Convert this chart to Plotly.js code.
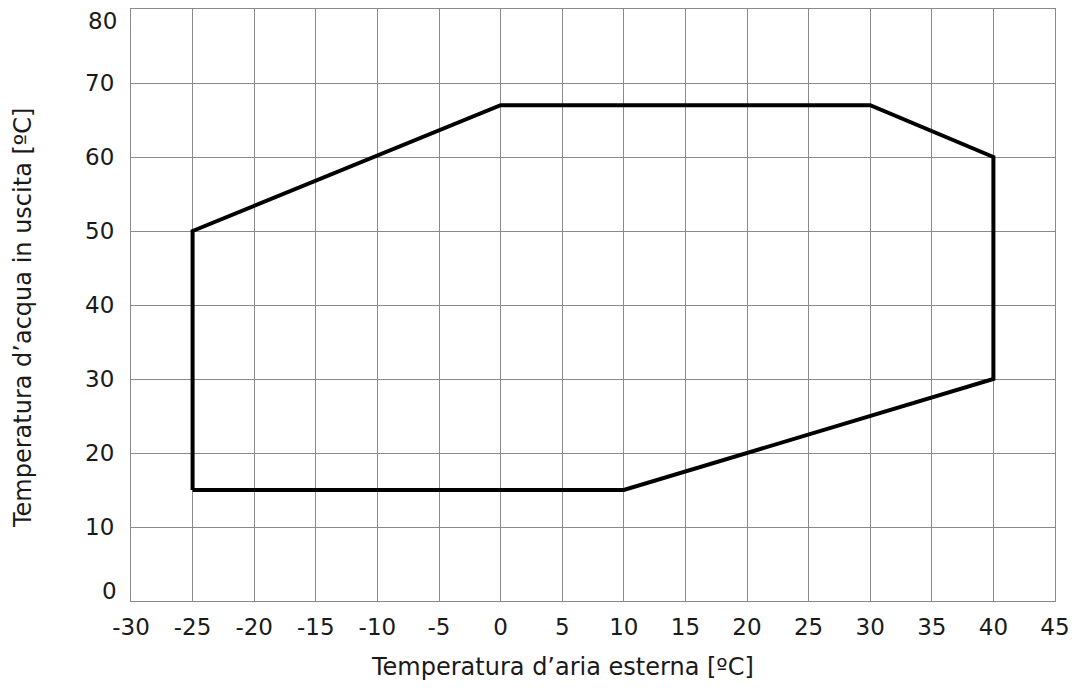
<!DOCTYPE html>
<html>
<head>
<meta charset="utf-8">
<script src="https://cdn.plot.ly/plotly-3.0.1.min.js"></script>
<style>html,body{margin:0;padding:0;background:#fff;}#chart{width:1089px;height:697px;}</style>
</head>
<body>
<div id="chart"></div>
<script>
const airTemp = [-25, -25, 0, 30, 40, 40, 10, -25];
const waterTemp = [15, 50, 67, 67, 60, 30, 15, 15];
const xTicks = [-30,-25,-20,-15,-10,-5,0,5,10,15,20,25,30,35,40,45];
const yTicks = [0,10,20,30,40,50,60,70,80];
const xTitle = 'Temperatura d\u2019aria esterna [ºC]';
const yTitle = 'Temperatura d\u2019acqua in uscita [ºC]';

const trace = {
  x: airTemp, y: waterTemp, mode: 'lines', type: 'scatter',
  line: {color: '#000', width: 4, shape: 'linear'},
  hoverinfo: 'skip', showlegend: false
};
const tickFont = {family: 'DejaVu Sans, sans-serif', size: 23, color: '#1a1a1a'};
const titleFont = {family: 'DejaVu Sans, sans-serif', size: 24, color: '#1a1a1a'};
const yMin = yTicks[0], yMax = yTicks[yTicks.length - 1];
// interior y tick labels drawn by the axis; edge labels (0, 80) as text nudged inside like the reference
const yTickText = yTicks.map(v => (v === yMin || v === yMax) ? '' : String(v));

const layout = {
  width: 1089, height: 697,
  margin: {l: 131, r: 34, t: 9, b: 96},
  paper_bgcolor: '#fff', plot_bgcolor: '#fff',
  font: tickFont,
  xaxis: {
    range: [xTicks[0], xTicks[xTicks.length - 1]], tickvals: xTicks, ticktext: xTicks.map(String),
    tickfont: tickFont, ticklabeloverflow: 'allow',
    showgrid: true, gridcolor: '#8a8a8a', gridwidth: 1,
    showline: true, linecolor: '#8a8a8a', linewidth: 1, mirror: true,
    zeroline: false, ticks: '', ticklabelstandoff: 5
  },
  yaxis: {
    range: [yMin, yMax], tickvals: yTicks, ticktext: yTickText,
    tickfont: tickFont, ticklabeloverflow: 'allow',
    showgrid: true, gridcolor: '#8a8a8a', gridwidth: 1,
    showline: true, linecolor: '#8a8a8a', linewidth: 1, mirror: true,
    zeroline: false, ticks: '', ticklabelstandoff: 11
  },
  annotations: [
    {xref: 'paper', yref: 'y', x: 0, y: yMin, text: String(yMin), showarrow: false,
     xanchor: 'right', yanchor: 'bottom', xshift: -12, yshift: -5, font: tickFont},
    {xref: 'paper', yref: 'y', x: 0, y: yMax, text: String(yMax), showarrow: false,
     xanchor: 'right', yanchor: 'top', xshift: -12, yshift: 3, font: tickFont},
    {xref: 'paper', yref: 'paper', x: 0.467, y: 0, yshift: -66, text: xTitle, showarrow: false,
     xanchor: 'center', yanchor: 'middle', font: titleFont},
    {xref: 'paper', yref: 'paper', x: 0, xshift: -108, y: 0.478, text: yTitle, showarrow: false,
     textangle: -90, xanchor: 'center', yanchor: 'middle', font: titleFont}
  ]
};
Plotly.newPlot('chart', [trace], layout, {displayModeBar: false, staticPlot: true});
</script>
</body>
</html>
